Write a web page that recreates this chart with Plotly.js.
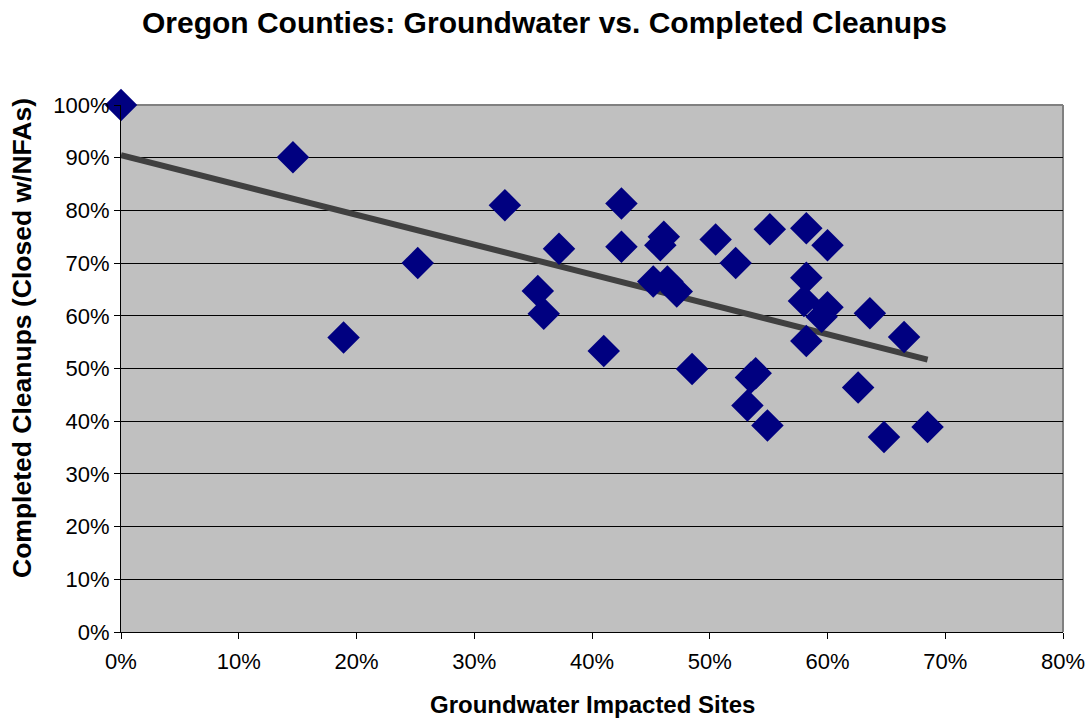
<!DOCTYPE html>
<html>
<head>
<meta charset="utf-8">
<script src="https://cdn.plot.ly/plotly-3.0.1.min.js"></script>
<style>html,body{margin:0;padding:0;background:#fff}#chart{width:1089px;height:719px}</style>
</head>
<body>
<div id="chart"></div>
<script>
// Groundwater impacted sites share (x) vs completed cleanups share (y), one point per county
var groundwater = [0.000, 0.146, 0.189, 0.252, 0.326, 0.354, 0.359, 0.372, 0.410, 0.425, 0.425, 0.452,
                   0.458, 0.461, 0.464, 0.472, 0.485, 0.505, 0.522, 0.532, 0.535, 0.539, 0.549, 0.551,
                   0.580, 0.582, 0.582, 0.582, 0.595, 0.600, 0.600, 0.626, 0.636, 0.648, 0.665, 0.685];
var completed   = [1.000, 0.901, 0.559, 0.700, 0.810, 0.647, 0.604, 0.727, 0.533, 0.813, 0.731, 0.665,
                   0.734, 0.750, 0.665, 0.646, 0.499, 0.745, 0.700, 0.430, 0.483, 0.491, 0.392, 0.764,
                   0.628, 0.766, 0.672, 0.552, 0.598, 0.734, 0.616, 0.464, 0.605, 0.370, 0.560, 0.389];
// Linear trend line endpoints
var trendX = [0.000, 0.685];
var trendY = [0.905, 0.517];
var xTicks = [0, 0.1, 0.2, 0.3, 0.4, 0.5, 0.6, 0.7, 0.8];
var yTicks = [0, 0.1, 0.2, 0.3, 0.4, 0.5, 0.6, 0.7, 0.8, 0.9, 1.0];

var font = "'Liberation Sans', Arial, sans-serif";

var traces = [
  {
    x: trendX, y: trendY, type: 'scatter', mode: 'lines',
    line: {color: '#404040', width: 6},
    hoverinfo: 'skip', cliponaxis: false
  },
  {
    x: groundwater, y: completed, type: 'scatter', mode: 'markers',
    marker: {symbol: 'diamond', size: 25, color: '#000080', line: {width: 0}},
    cliponaxis: false
  }
];

var layout = {
  width: 1089, height: 719,
  margin: {l: 121, r: 26, t: 105, b: 87},
  paper_bgcolor: '#ffffff',
  plot_bgcolor: '#c0c0c0',
  showlegend: false,
  font: {family: font, color: '#000'},
  title: {
    text: '<b>Oregon Counties: Groundwater vs. Completed Cleanups</b>',
    font: {family: font, size: 30, color: '#000'},
    x: 0.5, xanchor: 'center', y: 0.969, yanchor: 'middle'
  },
  xaxis: {
    range: [0, 0.8], tickvals: xTicks, tickformat: '.0%',
    showgrid: false, zeroline: false,
    showline: true, linecolor: '#000', linewidth: 1,
    ticks: 'outside', ticklen: 6, tickcolor: '#000', ticklabelstandoff: 4,
    tickfont: {family: font, size: 22, color: '#000'}
  },
  yaxis: {
    range: [0, 1.0], tickvals: yTicks, tickformat: '.0%',
    showgrid: true, gridcolor: '#000', gridwidth: 1, zeroline: false,
    showline: true, linecolor: '#000', linewidth: 1,
    ticks: 'outside', ticklen: 6, tickcolor: '#000',
    tickfont: {family: font, size: 22, color: '#000'}
  },
  annotations: [
    {
      text: '<b>Groundwater Impacted Sites</b>', xref: 'paper', yref: 'paper',
      x: 0.5, y: -0.1385, xanchor: 'center', yanchor: 'middle', showarrow: false,
      font: {family: font, size: 24, color: '#000'}
    },
    {
      text: '<b>Completed Cleanups (Closed w/NFAs)</b>', xref: 'paper', yref: 'paper',
      x: -0.1051, y: 0.0987, xanchor: 'center', yanchor: 'bottom', textangle: -90, showarrow: false,
      font: {family: font, size: 26.5, color: '#000'}
    }
  ],
  shapes: [
    {type: 'line', xref: 'paper', yref: 'paper', x0: 0, x1: 1, y0: 1, y1: 1, line: {color: '#808080', width: 2}, layer: 'between'},
    {type: 'line', xref: 'paper', yref: 'paper', x0: 1, x1: 1, y0: 0, y1: 1, line: {color: '#808080', width: 2}, layer: 'between'}
  ]
};

Plotly.newPlot('chart', traces, layout, {displayModeBar: false, staticPlot: true});
</script>
</body>
</html>
